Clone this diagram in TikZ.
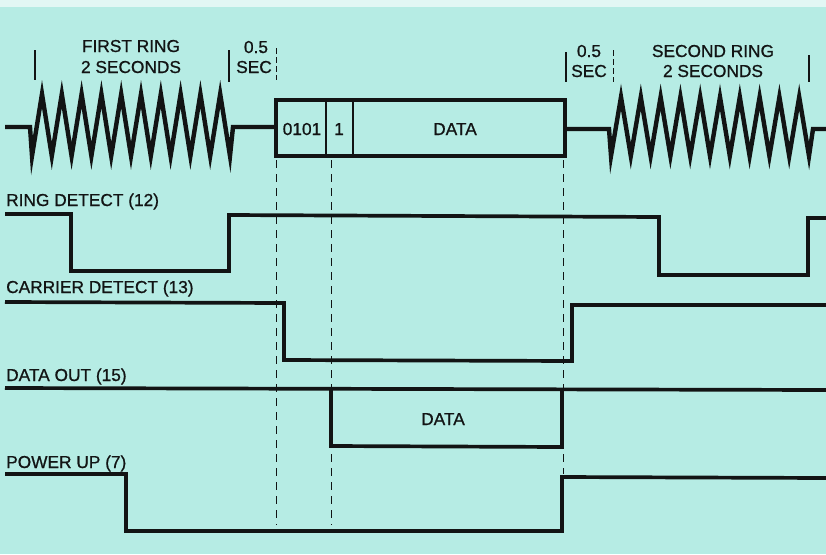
\documentclass[tikz,border=0pt]{standalone}
\usepackage{fontspec}
\setmainfont{Liberation Sans}
\newfontfamily\lblfont[AutoFakeBold=0.8]{Liberation Sans}
\definecolor{bgcyan}{RGB}{182,236,228}
\definecolor{ink}{RGB}{18,20,20}
\begin{document}
\begin{tikzpicture}[x=1pt,y=-1pt,
  wave/.style={draw=ink,line width=4.4pt,line join=miter,miter limit=30},
  sig/.style={draw=ink,line width=3.7pt,line join=miter},
  thin/.style={draw=ink,line width=1.3pt},
  guide/.style={draw=ink,line width=1pt,dash pattern=on 8pt off 6pt},
  lbl/.style={inner sep=0pt,font=\lblfont\bfseries\fontsize{17.3}{19}\selectfont,text=ink},
]
\fill[bgcyan] (0,0) rectangle (826,554);
\fill[white!60!bgcyan] (0,0) rectangle (826,7);
\useasboundingbox (0,0) rectangle (826,554);

% ---- top line: first ring
\draw[wave] (5,127) -- (30,127) -- (32,156)
  \foreach \k in {0,...,9} { -- ({42+19.8*\k},94) -- ({51.8+19.8*\k},156) }
  -- (233,127) -- (276,127);
% data box
\draw[sig] (276,100) rectangle (565,156);
\draw[thin] (326,100) -- (326,156);
\draw[thin] (353,100) -- (353,156);
\node[lbl,anchor=base] (t0101) at (302,135) {0101};
\node[lbl,anchor=base] (t1) at (339,135) {1};
\node[lbl,anchor=base] (tdata) at (455,135) {DATA};
% second ring
\draw[wave] (565,129) -- (609,129) -- (611,156)
  \foreach \k in {0,...,9} { -- ({621+19.8*\k},97) -- ({630.8+19.8*\k},156) }
  -- (813,129) -- (826,129);

% ---- top ticks
\draw[thin] (35,50) -- (35,80);
\draw[thin] (229,50) -- (229,82);
\draw[guide,dash pattern=on 6pt off 3pt] (276,48) -- (276,80);
\draw[thin] (566,52) -- (566,82);
\draw[guide,dash pattern=on 6pt off 3pt] (613,50) -- (613,82);
\draw[thin] (809,55) -- (809,82);

% ---- top labels
\node[lbl,anchor=base] (fr1) at (131,52) {FIRST RING};
\node[lbl,anchor=base] (fr2) at (131,73) {2 SECONDS};
\node[lbl,anchor=base] (h1) at (256,53) {0.5};
\node[lbl,anchor=base] (s1) at (254,73) {SEC};
\node[lbl,anchor=base] (h2) at (589,57) {0.5};
\node[lbl,anchor=base] (s2) at (589,77) {SEC};
\node[lbl,anchor=base] (sr1) at (713,57) {SECOND RING};
\node[lbl,anchor=base] (sr2) at (713,77) {2 SECONDS};

% ---- guides
\draw[guide] (276,160) -- (276,525);
\draw[guide] (331,160) -- (331,525);
\draw[guide] (563,160) -- (563,474);

% ---- ring detect
\node[lbl,anchor=base west] (rd) at (6,206) {RING DETECT (12)};
\draw[sig] (5,214) -- (71,214) -- (71,271) -- (229,271) -- (229,215)
  -- (659,217) -- (659,275) -- (808,275) -- (808,218) -- (826,218);

% ---- carrier detect
\node[lbl,anchor=base west] (cd) at (6,293) {CARRIER DETECT (13)};
\draw[sig] (5,302) -- (284,303) -- (284,360) -- (572,361) -- (572,305) -- (826,305);

% ---- data out
\node[lbl,anchor=base west] (do) at (6,381) {DATA OUT (15)};
\draw[sig] (5,388) -- (826,390);
\draw[sig] (331,389) -- (331,446) -- (562,447) -- (562,390);
\node[lbl,anchor=base] (dd) at (443,425) {DATA};

% ---- power up
\node[lbl,anchor=base west] (pu) at (6,468) {POWER UP (7)};
\draw[sig] (5,474) -- (126,474) -- (126,531) -- (562,531) -- (562,477) -- (826,478);
\end{tikzpicture}
\end{document}
